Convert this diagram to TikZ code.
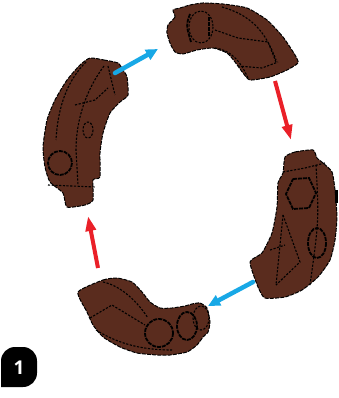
\documentclass[tikz,border=0pt]{standalone}
\usepackage{fontspec}
\newfontfamily\badgefont{Open Sans}
\usetikzlibrary{arrows.meta}
\definecolor{brickbrown}{RGB}{90,44,30}
\definecolor{stepblue}{RGB}{24,168,230}
\definecolor{stepred}{RGB}{234,32,40}
\tikzset{
  brick/.style={fill=brickbrown, draw=black, line width=1pt, dash pattern=on 4pt off 1.2pt, line join=round},
  edge/.style={draw=black, line width=1.1pt, dash pattern=on 2.2pt off 1.5pt},
  heavy/.style={draw=black, line width=1.8pt, dash pattern=on 4pt off 1pt},
  bluearrow/.style={draw=stepblue, line width=4.5pt, line cap=round, -{Triangle[length=12pt,width=11pt]}},
  redarrow/.style={draw=stepred, line width=4pt, -{Triangle[length=15pt,width=10pt]}},
}
\begin{document}
\begin{tikzpicture}[x=1pt,y=-1pt]
\useasboundingbox (0,0) rectangle (339,398);

% top curved brick
\filldraw[brick] plot[smooth cycle, tension=0.35] coordinates {(173,10) (175,17) (168,25) (167,33) (170,43) (175,52) (183,54) (197,50) (213,48) (227,53) (235,62) (243,73) (250,80) (270,77) (287,70) (298,63) (295,55) (283,37) (267,20) (247,8) (223,4) (203,3) (190,5) (180,8)};
\draw[edge] (201,27) ellipse (12 and 16);
\draw[heavy] (209,17) -- (209,37);
\draw[heavy] (190,14) .. controls (186,25) .. (191,42);
\draw[edge] (222,7) .. controls (250,15) and (265,30) .. (276,60);
\draw[edge] (215,30) -- (238,38) -- (268,42) -- (276,62);
\draw[edge] (215,48) .. controls (230,50) and (240,60) .. (248,78);
\draw[edge] (238,66) -- (262,68) -- (278,62);

% left curved brick
\filldraw[brick] plot[smooth cycle, tension=0.35] coordinates {(90,58) (104,60) (118,63) (123,70) (127,77) (128,95) (120,102) (110,113) (103,133) (100,153) (100,177) (93,180) (93,200) (85,205) (67,207) (63,193) (50,182) (45,167) (43,147) (47,120) (55,100) (67,80) (80,65)};
\draw[heavy] (60,163) circle (12);
\draw[edge] (88,130) ellipse (5 and 8);
\draw[edge] (86,62) .. controls (68,80) and (58,105) .. (56,140);
\draw[edge] (104,66) .. controls (86,90) and (76,120) .. (76,150) -- (78,185);
\draw[edge] (75,105) -- (95,100) -- (108,88);
\draw[edge] (48,185) -- (95,187);
\draw[edge] (108,66) -- (115,95);

% right curved brick
\filldraw[brick] plot[smooth cycle, tension=0.35] coordinates {(285,157) (295,152) (313,150) (317,158) (323,163) (332,172) (335,190) (337,217) (335,240) (330,260) (318,277) (302,290) (285,297) (265,298) (258,287) (250,262) (262,253) (272,233) (277,207) (278,183) (283,173)};
\draw[heavy] (293,179) -- (309,178) -- (316,193) -- (309,208) -- (293,209) -- (286,194) -- cycle;
\draw[heavy] (317,243) ellipse (9 and 15);
\draw[draw=black, line width=3pt] (336,190) -- (336,203);
\draw[edge] (283,172) -- (305,168) -- (325,163);
\draw[edge] (316,165) .. controls (319,220) .. (310,285);
\draw[edge] (283,215) -- (276,285);
\draw[edge] (283,215) -- (300,262) -- (276,285);
\draw[edge] (270,250) -- (285,245);

% bottom curved brick
\filldraw[brick] plot[smooth cycle, tension=0.35] coordinates {(78,292) (103,280) (117,278) (132,282) (142,292) (150,302) (160,308) (172,308) (185,306) (192,304) (200,303) (207,308) (210,322) (208,332) (203,337) (197,345) (187,352) (170,355) (157,355) (137,353) (120,347) (103,337) (93,325) (87,312)};
\draw[heavy] (159,333) circle (14);
\draw[heavy] (187,326) ellipse (10 and 14);
\draw[edge] (201,318) ellipse (8 and 12);
\draw[edge] (103,282) .. controls (118,285) and (135,298) .. (148,318);
\draw[edge] (90,318) -- (112,305) -- (145,325);
\draw[edge] (96,330) .. controls (120,345) and (145,350) .. (172,350);

% assembly arrows
\coordinate (b1s) at (115,73);
\coordinate (b1e) at (158,49);
\coordinate (r1s) at (275,81);
\coordinate (r1e) at (291,140);
\coordinate (b2s) at (253,282);
\coordinate (b2e) at (208,306);
\coordinate (r2s) at (98,268);
\coordinate (r2e) at (88,216);
\draw[bluearrow] (b1s) -- (b1e);
\draw[redarrow] (r1s) -- (r1e);
\draw[bluearrow] (b2s) -- (b2e);
\draw[redarrow] (r2s) -- (r2e);

% step number badge
\fill[black] (1,387) -- (1,362) [rounded corners=14pt] -- (1,347) -- (37,347) -- (37,387) [sharp corners] -- cycle;
\node[text=white, font=\badgefont\bfseries\fontsize{19}{19}\selectfont, inner sep=0pt] (stepnum) at (19,368) {1};
\end{tikzpicture}
\end{document}
